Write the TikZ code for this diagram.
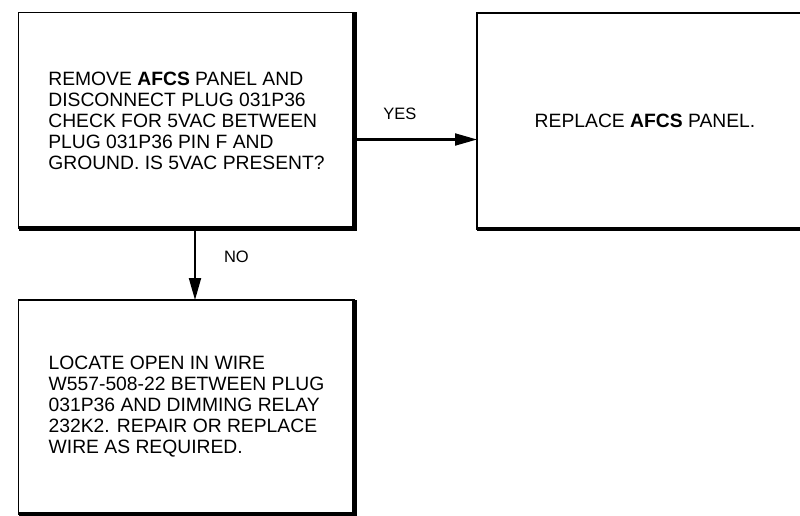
\documentclass[tikz,border=0pt]{standalone}
\usepackage{fontspec}
\setmainfont{Liberation Sans}
\usetikzlibrary{arrows.meta, positioning}

\begin{document}
\begin{tikzpicture}[x=1pt, y=-1pt, >={Triangle[length=22pt, width=12pt]},
  box/.style={rectangle, draw=black, line width=1.8pt, fill=white,
              minimum width=336pt, minimum height=216pt, align=left,
              inner sep=0pt, outer sep=0pt,
              font=\fontsize{19.3}{21}\selectfont},
  edge/.style={line width=4.5pt},
  arr/.style={->, line width=2pt},
  lbl/.style={font=\fontsize{16.5}{18}\selectfont, inner sep=0pt}
]
\useasboundingbox (0,0) rectangle (800,516);

%% ---- Boxes ----
\node[box] (check)   at (186.5, 120.5) {REMOVE \textbf{AFCS} PANEL AND\\DISCONNECT PLUG 031P36\\CHECK FOR 5VAC BETWEEN\\PLUG 031P36 PIN F AND\\GROUND. IS 5VAC PRESENT?};
\node[box] (replace) at (645.0, 121.0) {REPLACE \textbf{AFCS} PANEL.};
\node[box, minimum height=214pt] (locate) at (186.5, 407.0) {LOCATE OPEN IN WIRE\\W557-508-22 BETWEEN PLUG\\031P36 AND DIMMING RELAY\\232K2. REPAIR OR REPLACE\\WIRE AS REQUIRED.};

%% ---- Heavy right and bottom edges ----
\draw[edge] (check.north east)   -- (check.south east)   -- (check.south west);
\draw[edge] (replace.north east) -- (replace.south east) -- (replace.south west);
\draw[edge] (locate.north east)  -- (locate.south east)  -- (locate.south west);

%% ---- Arrows ----
\draw[arr] ([yshift=-19pt]check.east) -- ([yshift=-19pt]check.east -| replace.west)
  node[lbl, pos=0.37, above=18.5pt]{YES};
\draw[arr] ([xshift=8.5pt]check.south) -- ([xshift=8.5pt]check.south |- locate.north)
  node[lbl, pos=0.4, right=28pt]{NO};

\end{tikzpicture}
\end{document}
